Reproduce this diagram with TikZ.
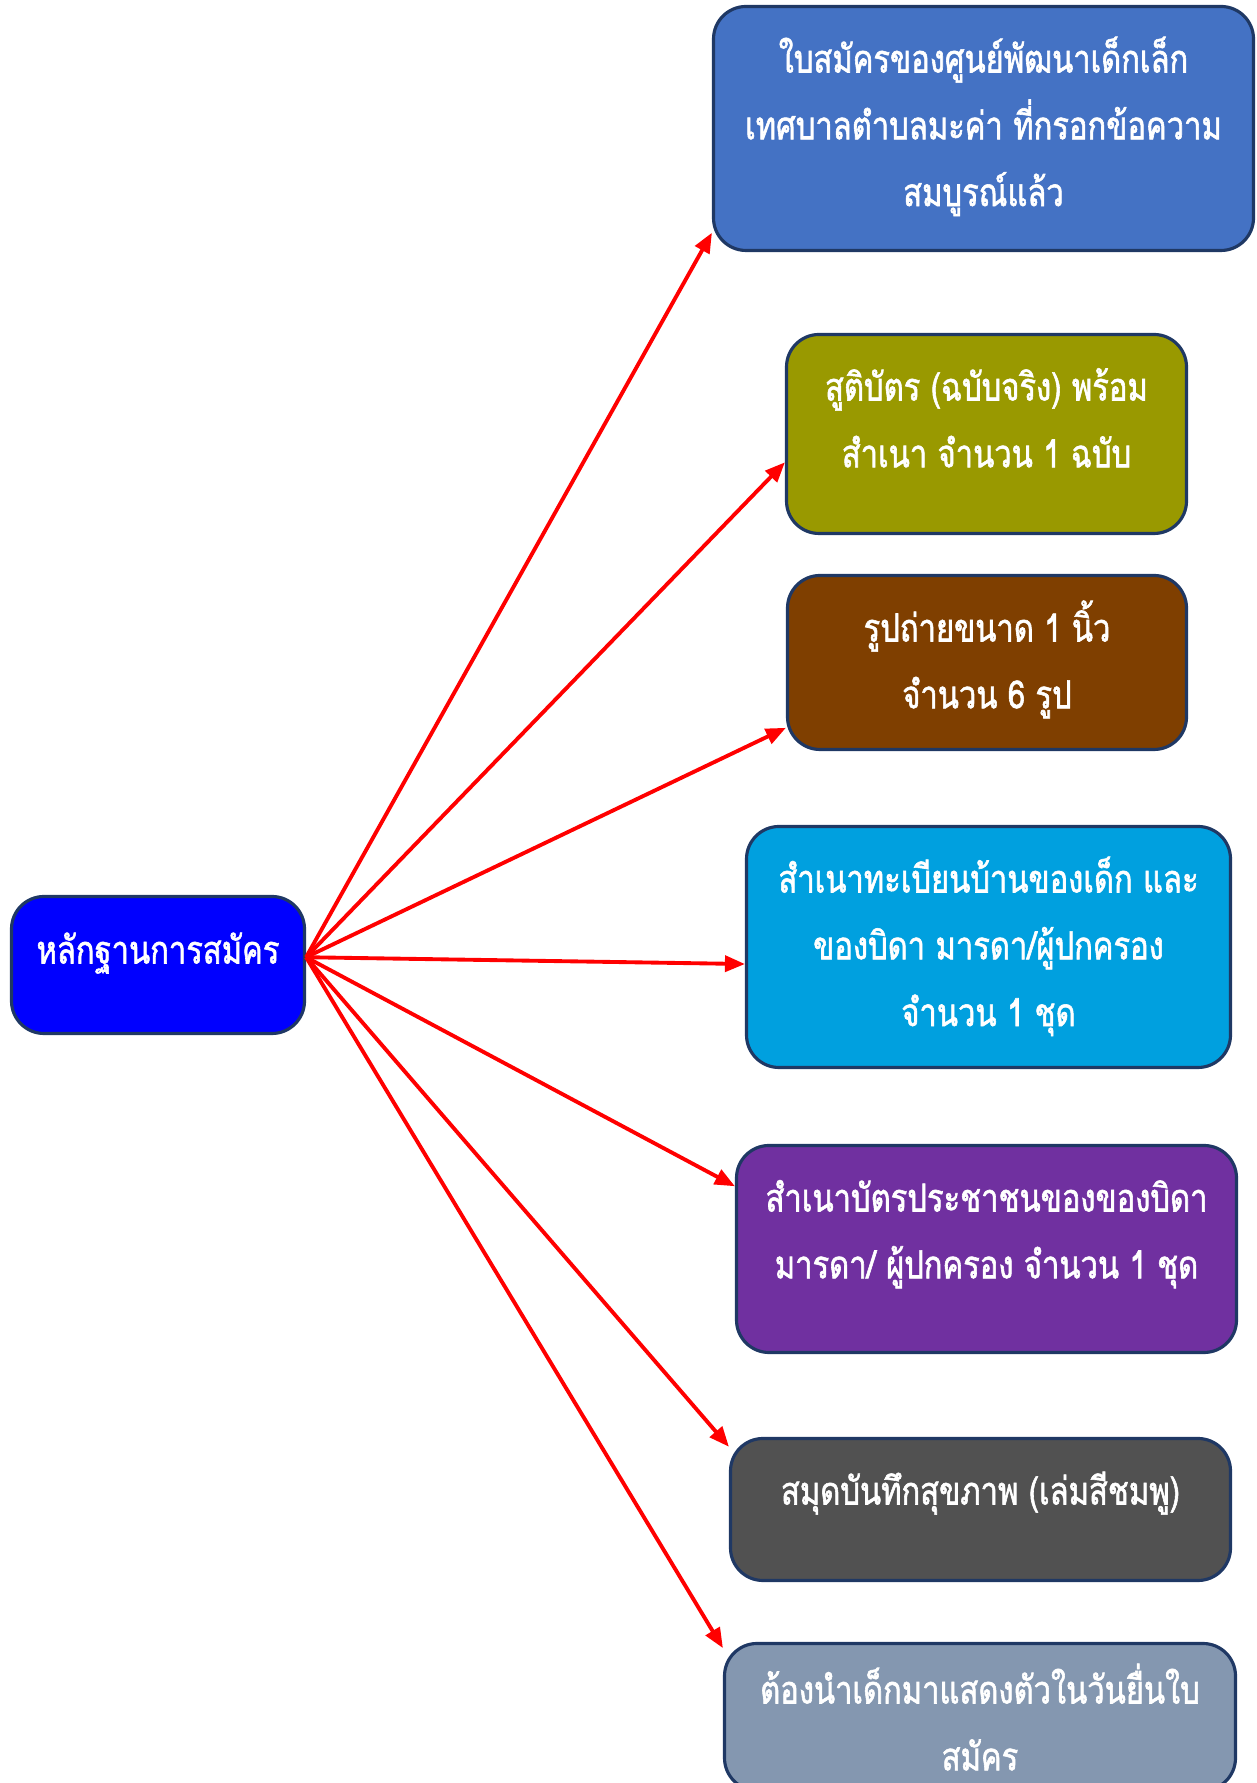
\documentclass[tikz,border=0pt]{standalone}
\usepackage{fontspec}
\newfontfamily\thaifont[Script=Thai,FakeStretch=0.8,FakeBold=1.5]{Loma}
\usetikzlibrary{arrows.meta}

\definecolor{edgeblue}{HTML}{1F3864}
\definecolor{hubblue}{HTML}{0000FF}
\definecolor{formblue}{HTML}{4472C4}
\definecolor{olive}{HTML}{999900}
\definecolor{brown}{HTML}{7F3F00}
\definecolor{skyblue}{HTML}{00A0DF}
\definecolor{purple}{HTML}{7030A0}
\definecolor{darkgrey}{HTML}{515151}
\definecolor{greyblue}{HTML}{8497B0}

% box text: width, height, first baseline from the top
\newcommand{\cardtext}[4][1.32cm]{\parbox[c][#3][t]{#2}{\centering\rule{0pt}{#1}#4}}

\tikzset{
    card/.style={draw=edgeblue,line width=1.8pt,rounded corners=0.65cm,
        inner sep=0pt,text=white,font=\thaifont\fontsize{22}{38}\selectfont},
    feed/.style={draw,->,>={Triangle[length=0.4cm,width=0.32cm]},red,line width=2.2pt}
}

\begin{document}
\begin{tikzpicture}
        \useasboundingbox (0,0) rectangle (25.12,35.66);

        \node[card,fill=hubblue] (H) at (3.16,16.36){\cardtext[1.34cm]{5.86cm}{2.74cm}{หลักฐานการสมัคร}};

        \node[card,fill=formblue] (A) at (19.67,33.09){\cardtext{10.80cm}{4.88cm}{ใบสมัครของศูนย์พัฒนาเด็กเล็ก\\เทศบาลตำบลมะค่า ที่กรอกข้อความ\\สมบูรณ์แล้ว}};
        \node[card,fill=olive] (B) at (19.73,26.98){\cardtext{8.00cm}{3.98cm}{สูติบัตร (ฉบับจริง) พร้อม\\สำเนา จำนวน 1 ฉบับ}};
        \node[card,fill=brown] (C) at (19.74,22.41){\cardtext{7.98cm}{3.48cm}{รูปถ่ายขนาด 1 นิ้ว\\จำนวน 6 รูป}};
        \node[card,fill=skyblue] (D) at (19.77,16.72){\cardtext{9.68cm}{4.82cm}{สำเนาทะเบียนบ้านของเด็ก และ\\ของบิดา มารดา/ผู้ปกครอง\\จำนวน 1 ชุด}};
        \node[card,fill=purple] (E) at (19.73,10.68){\cardtext{10.00cm}{4.14cm}{สำเนาบัตรประชาชนของของบิดา\\มารดา/ ผู้ปกครอง จำนวน 1 ชุด}};
        \node[card,fill=darkgrey] (F) at (19.61,5.47){\cardtext{10.00cm}{2.84cm}{สมุดบันทึกสุขภาพ (เล่มสีชมพู)}};
        \node[card,fill=greyblue] (G) at (19.60,1.32){\cardtext[1.20cm]{10.22cm}{2.94cm}{ต้องนำเด็กมาแสดงตัวในวันยื่นใบ\\สมัคร}};

        \path [feed] (H.3) to (A.201);
        \path [feed] (H.3) to (B.188);
        \path [feed] (H.3) to (C.198);
        \path [feed] (H.3) to (D.184);
        \path [feed] (H.3) to (E.166);
        \path [feed] (H.3) to (F.166);
        \path [feed] (H.3) to (G.165);
    \end{tikzpicture}
\end{document}
